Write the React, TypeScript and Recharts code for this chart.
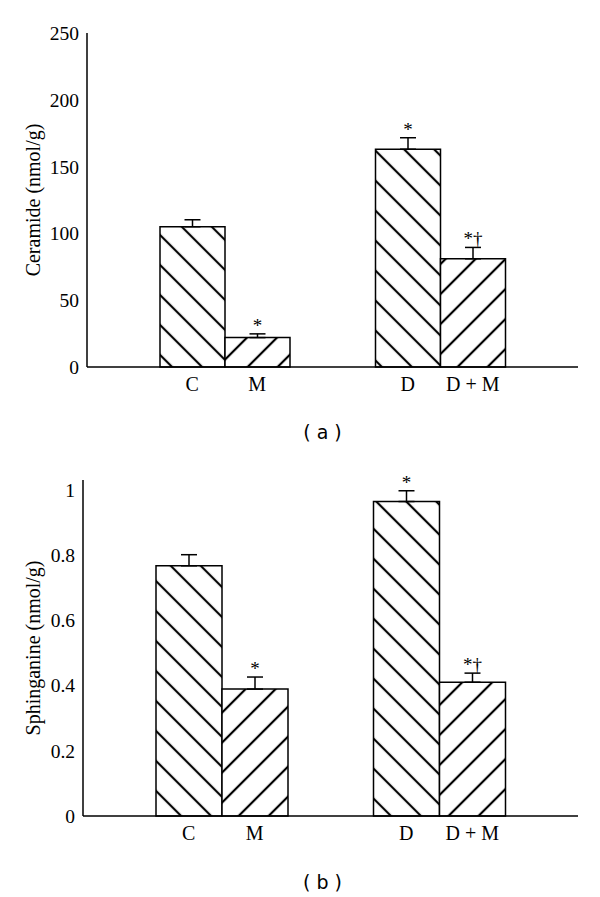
import { Bar, BarChart, ErrorBar, LabelList, XAxis, YAxis } from 'recharts'

const SERIF = '"Liberation Serif", "Times New Roman", serif'
const SANS = '"DejaVu Sans", Verdana, sans-serif'

const groups = ['Control', 'Diabetic']
const baseLabels = ['C', 'D']
const mLabels = ['M', 'D + M']

// (a) ceramide
const ceramideBase = [105, 163]
const ceramideBaseErr = [5.2, 8.6]
const ceramideM = [22, 81]
const ceramideMErr = [2.8, 8.5]
const ceramideBaseSig = ['', '*']
const ceramideMSig = ['*', '*†']
const ceramideTicks = [0, 50, 100, 150, 200, 250]

// (b) sphinganine
const sphBase = [0.767, 0.964]
const sphBaseErr = [0.034, 0.033]
const sphM = [0.389, 0.41]
const sphMErr = [0.037, 0.028]
const sphBaseSig = ['', '*']
const sphMSig = ['*', '*†']
const sphTicks = [0, 0.2, 0.4, 0.6, 0.8, 1]

const rows = (
  base: number[],
  baseErr: number[],
  baseSig: string[],
  m: number[],
  mErr: number[],
  mSig: string[],
) =>
  groups.map((g, i) => ({
    group: g,
    base: base[i],
    baseErr: [0, baseErr[i]],
    baseSig: baseSig[i],
    m: m[i],
    mErr: [0, mErr[i]],
    mSig: mSig[i],
  }))

const ceramideData = rows(ceramideBase, ceramideBaseErr, ceramideBaseSig, ceramideM, ceramideMErr, ceramideMSig)
const sphData = rows(sphBase, sphBaseErr, sphBaseSig, sphM, sphMErr, sphMSig)

function sigLabel(values: number[], errs: number[]) {
  return (props: any) => {
    const vb = props.viewBox ?? props
    const i = props.index
    if (!props.value) return null
    const h = Math.abs(vb.height)
    const errPx = (errs[i] / values[i]) * h
    const top = Math.min(vb.y, vb.y + vb.height) - errPx
    return (
      <text x={vb.x + vb.width / 2} y={top - 2} textAnchor="middle" fontFamily={SERIF} fontSize={19} fill="#000">
        {props.value}
      </text>
    )
  }
}

function groupTick(barW: number) {
  return (props: any) => {
    const { x, y, index } = props
    return (
      <g fontFamily={SERIF} fontSize={20} fill="#000">
        <text x={x - barW / 2} y={y} dy={16} textAnchor="middle">{baseLabels[index]}</text>
        <text x={x + barW / 2} y={y} dy={16} textAnchor="middle">{mLabels[index]}</text>
      </g>
    )
  }
}

function axisTitle(text: string) {
  return (props: any) => {
    const vb = props.viewBox
    const cx = vb.x + 33
    const cy = vb.y + vb.height / 2
    return (
      <text
        x={cx}
        y={cy}
        transform={`rotate(-90, ${cx}, ${cy})`}
        textAnchor="middle"
        dominantBaseline="central"
        fontFamily={SERIF}
        fontSize={20}
        fill="#000"
      >
        {text}
      </text>
    )
  }
}

function Panel({
  data,
  height,
  top,
  axisW,
  barW,
  domain,
  ticks,
  title,
  base,
  baseErr,
  m,
  mErr,
}: {
  data: any[]
  height: number
  top: number
  axisW: number
  barW: number
  domain: number[]
  ticks: number[]
  title: string
  base: number[]
  baseErr: number[]
  m: number[]
  mErr: number[]
}) {
  return (
    <BarChart
      width={600}
      height={height}
      data={data}
      margin={{ top, right: 22, left: 0, bottom: 0 }}
      barGap={0}
      barSize={barW}
    >
      <XAxis
        dataKey="group"
        height={33}
        padding={{ left: 30, right: 30 }}
        axisLine={{ stroke: '#000', strokeWidth: 1.5 }}
        tickLine={false}
        interval={0}
        tick={groupTick(barW)}
      />
      <YAxis
        width={axisW}
        domain={domain}
        ticks={ticks}
        axisLine={{ stroke: '#000', strokeWidth: 1.5 }}
        tickLine={false}
        tick={{ fill: '#000', fontSize: 19.5, fontFamily: SERIF }}
        label={{ content: axisTitle(title) }}
      />
      <Bar dataKey="base" fill="url(#hatchBack)" stroke="#000" strokeWidth={1.5} isAnimationActive={false}>
        <ErrorBar dataKey="baseErr" width={8} stroke="#000" strokeWidth={1.5} />
        <LabelList dataKey="baseSig" content={sigLabel(base, baseErr)} />
      </Bar>
      <Bar dataKey="m" fill="url(#hatchFwd)" stroke="#000" strokeWidth={1.5} isAnimationActive={false}>
        <ErrorBar dataKey="mErr" width={8} stroke="#000" strokeWidth={1.5} />
        <LabelList dataKey="mSig" content={sigLabel(m, mErr)} />
      </Bar>
    </BarChart>
  )
}

const captionStyle = {
  position: 'absolute' as const,
  left: 272,
  width: 101,
  textAlign: 'center' as const,
  fontFamily: SANS,
  fontSize: 19,
  lineHeight: '24px',
  color: '#000',
  whiteSpace: 'pre' as const,
}

export default function App() {
  return (
    <div style={{ position: 'absolute', left: 0, top: 0, width: 600, height: 897, background: '#fff' }}>
      <svg width={0} height={0} style={{ position: 'absolute' }}>
        <defs>
          <pattern id="hatchBack" patternUnits="userSpaceOnUse" width={21.2} height={21.2} patternTransform="rotate(-45)">
            <rect width={21.2} height={21.2} fill="#fff" />
            <line x1={10.6} y1={0} x2={10.6} y2={21.2} stroke="#000" strokeWidth={2.2} />
          </pattern>
          <pattern id="hatchFwd" patternUnits="userSpaceOnUse" width={21.2} height={21.2} patternTransform="rotate(45)">
            <rect width={21.2} height={21.2} fill="#fff" />
            <line x1={10.6} y1={0} x2={10.6} y2={21.2} stroke="#000" strokeWidth={2.2} />
          </pattern>
        </defs>
      </svg>

      <div style={{ position: 'absolute', left: 0, top: 0 }}>
        <Panel
          data={ceramideData}
          height={400}
          top={33}
          axisW={87}
          barW={65}
          domain={[0, 250]}
          ticks={ceramideTicks}
          title="Ceramide (nmol/g)"
          base={ceramideBase}
          baseErr={ceramideBaseErr}
          m={ceramideM}
          mErr={ceramideMErr}
        />
      </div>
      <div style={{ ...captionStyle, top: 420 }}>( a )</div>

      <div style={{ position: 'absolute', left: 0, top: 440 }}>
        <Panel
          data={sphData}
          height={409}
          top={40}
          axisW={83}
          barW={66}
          domain={[0, 1.03]}
          ticks={sphTicks}
          title="Sphinganine (nmol/g)"
          base={sphBase}
          baseErr={sphBaseErr}
          m={sphM}
          mErr={sphMErr}
        />
      </div>
      <div style={{ ...captionStyle, top: 870 }}>( b )</div>
    </div>
  )
}
